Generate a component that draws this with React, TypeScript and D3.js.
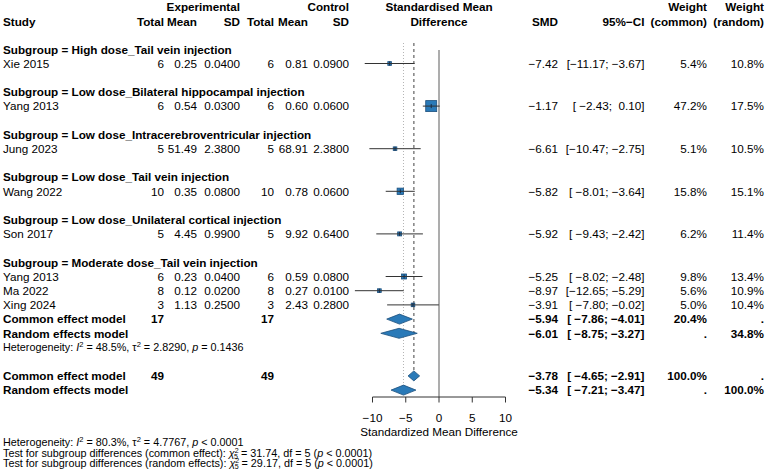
import React from "react";
import * as d3 from "d3";

// ---------------- DATA ----------------
const subgroupNames = [
  "High dose_Tail vein injection",
  "Low dose_Bilateral hippocampal injection",
  "Low dose_Intracerebroventricular injection",
  "Low dose_Tail vein injection",
  "Low dose_Unilateral cortical injection",
  "Moderate dose_Tail vein injection",
];
const studyNames = ["Xie 2015", "Yang 2013", "Jung 2023", "Wang 2022", "Son 2017", "Yang 2013", "Ma 2022", "Xing 2024"];
const studySubgroup = [0, 1, 2, 3, 4, 5, 5, 5];
const expTotal = [6, 6, 5, 10, 5, 6, 8, 3];
const expMean = [0.25, 0.54, 51.49, 0.35, 4.45, 0.23, 0.12, 1.13];
const expSD = [0.04, 0.03, 2.38, 0.08, 0.99, 0.04, 0.02, 0.25];
const ctlTotal = [6, 6, 5, 10, 5, 6, 8, 3];
const ctlMean = [0.81, 0.6, 68.91, 0.78, 9.92, 0.59, 0.27, 2.43];
const ctlSD = [0.09, 0.06, 2.38, 0.06, 0.64, 0.08, 0.01, 0.28];
const smd = [-7.42, -1.17, -6.61, -5.82, -5.92, -5.25, -8.97, -3.91];
const ciLow = [-11.17, -2.43, -10.47, -8.01, -9.43, -8.02, -12.65, -7.8];
const ciHigh = [-3.67, 0.1, -2.75, -3.64, -2.42, -2.48, -5.29, -0.02];
const weightCommon = [5.4, 47.2, 5.1, 15.8, 6.2, 9.8, 5.6, 5.0];
const weightRandom = [10.8, 17.5, 10.5, 15.1, 11.4, 13.4, 10.9, 10.4];

// pooled estimates of the multi-study subgroup (Moderate dose)
const sgPooledTotals = [17, 17];
const sgPooledEst = [-5.94, -6.01]; // common, random
const sgPooledLow = [-7.86, -8.75];
const sgPooledHigh = [-4.01, -3.27];
const sgPooledWCommon = ["20.4%", "."];
const sgPooledWRandom = [".", "34.8%"];
const sgHetText = ["48.5%", "2.8290", "= 0.1436"];

// overall
const overallTotals = [49, 49];
const overallEst = [-3.78, -5.34];
const overallLow = [-4.65, -7.21];
const overallHigh = [-2.91, -3.47];
const overallWCommon = ["100.0%", "."];
const overallWRandom = [".", "100.0%"];
const overallHet = ["80.3%", "4.7767", "< 0.0001"];
const subgroupTestChi = ["31.74", "29.17"];
const subgroupTestDf = [5, 5];

const axisTicks = [-10, -5, 0, 5, 10];
const axisDomain = [-10, 10];

// ---------------- LAYOUT ----------------
const W = 767;
const H = 470;
const FONT = "'Liberation Sans', Arial, Helvetica, sans-serif";
const FS = 11.7;
const FS_SMALL = 10.8;
const BLUE = "#2a7ab8";
const BLUE_DARK = "#1c4f7c";

const x = d3.scaleLinear().domain(axisDomain).range([372.5, 505.5]);
const yRow = d3.scaleLinear().domain([0, 24]).range([49.3, 390.1]);

const colX = {
  study: 3,
  eTot: 164,
  eMean: 197,
  eSD: 240,
  cTot: 274,
  cMean: 308,
  cSD: 349,
  smd: 558,
  ci: 644.5,
  wc: 707,
  wr: 764,
};

const minus = (v: number, d: number) => d3.format(`.${d}f`)(v).replace("-", "−");
const fmtCI = (lo: number, hi: number) => {
  const l = minus(lo, 2).padStart(6, " ");
  const h = minus(hi, 2).padStart(5, " ");
  return `[${l}; ${h}]`;
};

type TxtProps = {
  x: number;
  y: number;
  anchor?: "start" | "middle" | "end";
  bold?: boolean;
  size?: number;
  children: React.ReactNode;
};
const T = ({ x: tx, y, anchor = "start", bold = false, size = FS, children }: TxtProps) => (
  <text
    x={tx}
    y={y + size * 0.36}
    textAnchor={anchor}
    fontWeight={bold ? "bold" : "normal"}
    fontSize={size}
    fontFamily={FONT}
    fill="#000"
    style={{ whiteSpace: "pre" }}
  >
    {children}
  </text>
);

const Diamond = ({ est, lo, hi, y }: { est: number; lo: number; hi: number; y: number }) => {
  const hh = 5;
  const p = d3.path();
  p.moveTo(x(lo), y);
  p.lineTo(x(est), y - hh);
  p.lineTo(x(hi), y);
  p.lineTo(x(est), y + hh);
  p.closePath();
  return <path d={p.toString()} fill={BLUE} stroke={BLUE_DARK} strokeWidth={0.8} />;
};

export default function App() {
  // Build row positions
  const studyRow: number[] = [];
  const subgroupRow: number[] = [];
  let r = 0;
  subgroupNames.forEach((_, g) => {
    subgroupRow.push(r);
    r += 1;
    studyNames.forEach((_, i) => {
      if (studySubgroup[i] === g) {
        studyRow.push(r);
        r += 1;
      }
    });
    if (g < subgroupNames.length - 1) r += 1;
  });
  const sgCommonRow = r;
  const sgRandomRow = r + 1;
  const sgHetRow = r + 2;
  const ovCommonRow = r + 4;
  const ovRandomRow = r + 5;

  const maxW = d3.max(weightCommon) as number;
  const sq = d3.scaleSqrt().domain([0, maxW]).range([0, 11]);

  const headerY1 = 6.5;
  const headerY2 = 21.5;
  const axisY = 397;
  const lineTop = 43;

  const wPct = (v: number) => `${d3.format(".1f")(v)}%`;

  return (
    <svg
      width={W}
      height={H}
      style={{ position: "absolute", left: 0, top: 0, background: "#fff" }}
      xmlns="http://www.w3.org/2000/svg"
    >
      <rect x={0} y={0} width={W} height={H} fill="#fff" />
      {/* Headers */}
      <T x={colX.eSD} y={headerY1} anchor="end" bold>Experimental</T>
      <T x={colX.cSD} y={headerY1} anchor="end" bold>Control</T>
      <T x={x(0)} y={headerY1} anchor="middle" bold>Standardised Mean</T>
      <T x={x(0)} y={headerY2} anchor="middle" bold>Difference</T>
      <T x={colX.wc} y={headerY1} anchor="end" bold>Weight</T>
      <T x={colX.wr} y={headerY1} anchor="end" bold>Weight</T>
      <T x={colX.study} y={headerY2} bold>Study</T>
      <T x={colX.eTot} y={headerY2} anchor="end" bold>Total</T>
      <T x={colX.eMean} y={headerY2} anchor="end" bold>Mean</T>
      <T x={colX.eSD} y={headerY2} anchor="end" bold>SD</T>
      <T x={colX.cTot} y={headerY2} anchor="end" bold>Total</T>
      <T x={colX.cMean} y={headerY2} anchor="end" bold>Mean</T>
      <T x={colX.cSD} y={headerY2} anchor="end" bold>SD</T>
      <T x={colX.smd} y={headerY2} anchor="end" bold>SMD</T>
      <T x={colX.ci} y={headerY2} anchor="end" bold>95%−CI</T>
      <T x={colX.wc} y={headerY2} anchor="end" bold>(common)</T>
      <T x={colX.wr} y={headerY2} anchor="end" bold>(random)</T>

      {/* Reference lines */}
      <line x1={x(0)} x2={x(0)} y1={50} y2={axisY} stroke="#8a8a8a" strokeWidth={1.4} />
      <line
        x1={x(overallEst[0])}
        x2={x(overallEst[0])}
        y1={lineTop}
        y2={yRow(ovCommonRow) - 5}
        stroke="#6e6e6e"
        strokeWidth={1.3}
        strokeDasharray="3,3"
      />
      <line
        x1={x(overallEst[1])}
        x2={x(overallEst[1])}
        y1={lineTop}
        y2={yRow(ovRandomRow) - 5}
        stroke="#b5b5b5"
        strokeWidth={1}
        strokeDasharray="1,2"
      />

      {/* Subgroup labels */}
      {subgroupNames.map((s, g) => (
        <T key={"sg" + g} x={colX.study} y={yRow(subgroupRow[g])} bold>
          {`Subgroup = ${s}`}
        </T>
      ))}

      {/* Studies */}
      {studyNames.map((s, i) => {
        const y = yRow(studyRow[i]);
        const side = sq(weightCommon[i]);
        return (
          <g key={"st" + i}>
            <T x={colX.study} y={y}>{s}</T>
            <T x={colX.eTot} y={y} anchor="end">{String(expTotal[i])}</T>
            <T x={colX.eMean} y={y} anchor="end">{d3.format(".2f")(expMean[i])}</T>
            <T x={colX.eSD} y={y} anchor="end">{d3.format(".4f")(expSD[i])}</T>
            <T x={colX.cTot} y={y} anchor="end">{String(ctlTotal[i])}</T>
            <T x={colX.cMean} y={y} anchor="end">{d3.format(".2f")(ctlMean[i])}</T>
            <T x={colX.cSD} y={y} anchor="end">{d3.format(".4f")(ctlSD[i])}</T>
            <rect
              x={x(smd[i]) - side / 2}
              y={y - side / 2}
              width={side}
              height={side}
              fill={BLUE}
              stroke={BLUE_DARK}
              strokeWidth={0.8}
            />
            <line x1={x(ciLow[i])} x2={x(ciHigh[i])} y1={y} y2={y} stroke="#333" strokeWidth={1} />
            <line x1={x(smd[i])} x2={x(smd[i])} y1={y - 2} y2={y + 2} stroke="#1a2a40" strokeWidth={1} />
            <T x={colX.smd} y={y} anchor="end">{minus(smd[i], 2)}</T>
            <T x={colX.ci} y={y} anchor="end">{fmtCI(ciLow[i], ciHigh[i])}</T>
            <T x={colX.wc} y={y} anchor="end">{wPct(weightCommon[i])}</T>
            <T x={colX.wr} y={y} anchor="end">{wPct(weightRandom[i])}</T>
          </g>
        );
      })}

      {/* Subgroup pooled rows */}
      {[sgCommonRow, sgRandomRow].map((row, k) => {
        const y = yRow(row);
        return (
          <g key={"sgp" + k}>
            <T x={colX.study} y={y} bold>{k === 0 ? "Common effect model" : "Random effects model"}</T>
            {k === 0 && (
              <>
                <T x={colX.eTot} y={y} anchor="end" bold>{String(sgPooledTotals[0])}</T>
                <T x={colX.cTot} y={y} anchor="end" bold>{String(sgPooledTotals[1])}</T>
              </>
            )}
            <Diamond est={sgPooledEst[k]} lo={sgPooledLow[k]} hi={sgPooledHigh[k]} y={y} />
            <T x={colX.smd} y={y} anchor="end" bold>{minus(sgPooledEst[k], 2)}</T>
            <T x={colX.ci} y={y} anchor="end" bold>{fmtCI(sgPooledLow[k], sgPooledHigh[k])}</T>
            <T x={colX.wc} y={y} anchor="end" bold>{sgPooledWCommon[k]}</T>
            <T x={colX.wr} y={y} anchor="end" bold>{sgPooledWRandom[k]}</T>
          </g>
        );
      })}
      <T x={colX.study} y={yRow(sgHetRow)} size={FS_SMALL}>
        {"Heterogeneity: "}
        <tspan fontStyle="italic">I</tspan>
        <tspan dy={-4} fontSize={FS_SMALL * 0.7}>2</tspan>
        <tspan dy={4}>{` = ${sgHetText[0]}, τ`}</tspan>
        <tspan dy={-4} fontSize={FS_SMALL * 0.7}>2</tspan>
        <tspan dy={4}>{` = ${sgHetText[1]}, `}</tspan>
        <tspan fontStyle="italic">p</tspan>
        <tspan>{` ${sgHetText[2]}`}</tspan>
      </T>

      {/* Overall rows */}
      {[ovCommonRow, ovRandomRow].map((row, k) => {
        const y = yRow(row);
        return (
          <g key={"ov" + k}>
            <T x={colX.study} y={y} bold>{k === 0 ? "Common effect model" : "Random effects model"}</T>
            {k === 0 && (
              <>
                <T x={colX.eTot} y={y} anchor="end" bold>{String(overallTotals[0])}</T>
                <T x={colX.cTot} y={y} anchor="end" bold>{String(overallTotals[1])}</T>
              </>
            )}
            <Diamond est={overallEst[k]} lo={overallLow[k]} hi={overallHigh[k]} y={y} />
            <T x={colX.smd} y={y} anchor="end" bold>{minus(overallEst[k], 2)}</T>
            <T x={colX.ci} y={y} anchor="end" bold>{fmtCI(overallLow[k], overallHigh[k])}</T>
            <T x={colX.wc} y={y} anchor="end" bold>{overallWCommon[k]}</T>
            <T x={colX.wr} y={y} anchor="end" bold>{overallWRandom[k]}</T>
          </g>
        );
      })}

      {/* Axis */}
      <line x1={x(axisDomain[0])} x2={x(axisDomain[1])} y1={axisY} y2={axisY} stroke="#333" strokeWidth={1} />
      {axisTicks.map((t) => (
        <g key={"t" + t}>
          <line x1={x(t)} x2={x(t)} y1={axisY} y2={axisY + 5.5} stroke="#333" strokeWidth={1} />
          <T x={x(t)} y={418} anchor="middle">{d3.format("d")(t)}</T>
        </g>
      ))}
      <T x={x(0)} y={432} anchor="middle">Standardized Mean Difference</T>

      {/* Bottom stats */}
      <T x={colX.study} y={442.5} size={FS_SMALL}>
        {"Heterogeneity: "}
        <tspan fontStyle="italic">I</tspan>
        <tspan dy={-4} fontSize={FS_SMALL * 0.7}>2</tspan>
        <tspan dy={4}>{` = ${overallHet[0]}, τ`}</tspan>
        <tspan dy={-4} fontSize={FS_SMALL * 0.7}>2</tspan>
        <tspan dy={4}>{` = ${overallHet[1]}, `}</tspan>
        <tspan fontStyle="italic">p</tspan>
        <tspan>{` ${overallHet[2]}`}</tspan>
      </T>
      {["common effect", "random effects"].map((lab, k) => {
        const y = k === 0 ? 453 : 463;
        return (
          <T key={"test" + k} x={colX.study} y={y} size={FS_SMALL}>
            {`Test for subgroup differences (${lab}): `}
            <tspan fontStyle="italic">χ</tspan>
            <tspan dy={-3.5} fontSize={FS_SMALL * 0.65}>2</tspan>
            <tspan dx={-4.6} dy={5.5} fontSize={FS_SMALL * 0.65}>{String(subgroupTestDf[k])}</tspan>
            <tspan dy={-2}>{` = ${subgroupTestChi[k]}, df = ${subgroupTestDf[k]} (`}</tspan>
            <tspan fontStyle="italic">p</tspan>
            <tspan>{" < 0.0001)"}</tspan>
          </T>
        );
      })}
    </svg>
  );
}
